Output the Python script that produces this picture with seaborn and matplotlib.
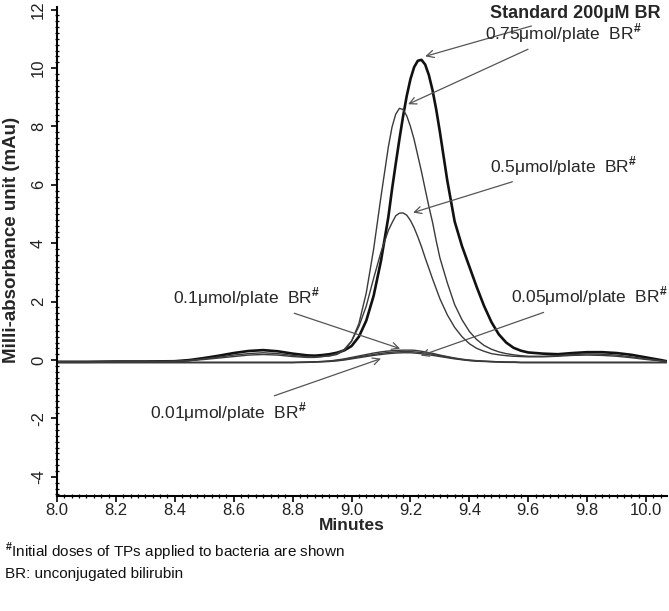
import numpy as np
import pandas as pd
import matplotlib
matplotlib.use('Agg')
import matplotlib.pyplot as plt
import seaborn as sns
from matplotlib.ticker import MultipleLocator, FormatStrFormatter

# --- data (minutes vs mAu) ---
minutes = [8.00, 8.10, 8.20, 8.30, 8.40, 8.45, 8.50, 8.55, 8.60, 8.65, 8.70, 8.75,
           8.80, 8.85, 8.875, 8.90, 8.925, 8.95, 8.975, 9.00, 9.025, 9.05, 9.075,
           9.10, 9.125, 9.1375, 9.15, 9.1625, 9.175, 9.1875, 9.20, 9.2125, 9.225,
           9.2375, 9.25, 9.2625, 9.275, 9.2875, 9.30, 9.325, 9.35,
           9.375, 9.40, 9.425, 9.45, 9.475, 9.50, 9.525, 9.55, 9.575, 9.60, 9.65,
           9.70, 9.75, 9.80, 9.85, 9.90, 9.95, 10.00, 10.05, 10.07]

standard_200uM = [-0.06, -0.06, -0.05, -0.05, -0.04, 0.0, 0.07, 0.15, 0.24, 0.31, 0.34, 0.30,
                  0.22, 0.16, 0.15, 0.17, 0.20, 0.25, 0.33, 0.48, 0.80, 1.35, 2.20,
                  3.40, 4.90, 5.85, 6.72, 7.56, 8.35, 9.05, 9.62, 10.03, 10.25,
                  10.28, 10.12, 9.76, 9.24, 8.58, 7.81, 6.15, 4.75,
                  3.90, 3.20, 2.50, 1.85, 1.30, 0.88, 0.60, 0.42, 0.32, 0.26, 0.22,
                  0.20, 0.24, 0.27, 0.27, 0.24, 0.18, 0.09, 0.0, -0.04]

dose_075 = [-0.06, -0.06, -0.05, -0.05, -0.04, -0.01, 0.04, 0.10, 0.17, 0.22, 0.25, 0.22,
            0.16, 0.11, 0.10, 0.12, 0.14, 0.19, 0.33, 0.64, 1.25, 2.30, 3.80,
            5.60, 7.30, 7.98, 8.42, 8.62, 8.58, 8.36, 8.00, 7.55, 7.00,
            6.45, 5.85, 5.26, 4.72, 4.08, 3.50, 2.65, 1.90,
            1.38, 0.98, 0.70, 0.50, 0.37, 0.28, 0.22, 0.18, 0.15, 0.13, 0.13,
            0.15, 0.19, 0.21, 0.20, 0.17, 0.11, 0.04, -0.02, -0.05]

dose_05 = [-0.06, -0.06, -0.05, -0.05, -0.04, -0.02, 0.02, 0.07, 0.12, 0.17, 0.19, 0.17,
           0.12, 0.09, 0.09, 0.12, 0.15, 0.22, 0.36, 0.65, 1.15, 1.85, 2.80,
           3.70, 4.44, 4.70, 4.94, 5.03, 5.04, 4.96, 4.78, 4.53, 4.22,
           3.88, 3.50, 3.14, 2.78, 2.44, 2.10, 1.55, 1.12,
           0.80, 0.56, 0.40, 0.30, 0.22, 0.18, 0.15, 0.13, 0.12, 0.11, 0.11,
           0.13, 0.16, 0.17, 0.16, 0.13, 0.08, 0.02, -0.03, -0.05]

dose_01 = [-0.08, -0.08, -0.08, -0.08, -0.08, -0.08, -0.08, -0.08, -0.08, -0.08, -0.08, -0.08,
           -0.08, -0.07, -0.06, -0.05, -0.03, 0.0, 0.04, 0.09, 0.14, 0.19, 0.24,
           0.28, 0.31, 0.32, 0.33, 0.335, 0.34, 0.34, 0.34, 0.335, 0.32,
           0.30, 0.28, 0.255, 0.23, 0.20, 0.17, 0.12, 0.07,
           0.03, 0.0, -0.02, -0.04, -0.05, -0.06, -0.07, -0.07, -0.08, -0.08, -0.08,
           -0.08, -0.08, -0.08, -0.08, -0.08, -0.08, -0.08, -0.08, -0.08]

dose_005 = [-0.08, -0.08, -0.08, -0.08, -0.08, -0.08, -0.08, -0.08, -0.08, -0.08, -0.08, -0.08,
            -0.08, -0.07, -0.06, -0.05, -0.04, -0.01, 0.02, 0.06, 0.11, 0.15, 0.19,
            0.23, 0.26, 0.27, 0.28, 0.285, 0.29, 0.29, 0.29, 0.28, 0.27,
            0.255, 0.24, 0.22, 0.20, 0.175, 0.15, 0.10, 0.06,
            0.02, -0.01, -0.03, -0.04, -0.05, -0.06, -0.07, -0.07, -0.08, -0.08, -0.08,
            -0.08, -0.08, -0.08, -0.08, -0.08, -0.08, -0.08, -0.08, -0.08]

dose_001 = [-0.09, -0.09, -0.09, -0.09, -0.09, -0.09, -0.09, -0.09, -0.09, -0.09, -0.09, -0.09,
            -0.09, -0.08, -0.07, -0.06, -0.05, -0.03, 0.0, 0.04, 0.08, 0.12, 0.16,
            0.19, 0.22, 0.23, 0.24, 0.245, 0.25, 0.25, 0.25, 0.24, 0.23,
            0.215, 0.20, 0.18, 0.16, 0.14, 0.12, 0.08, 0.04,
            0.01, -0.02, -0.04, -0.05, -0.06, -0.07, -0.08, -0.08, -0.09, -0.09, -0.09,
            -0.09, -0.09, -0.09, -0.09, -0.09, -0.09, -0.09, -0.09, -0.09]

series = {
    'Standard 200μM BR': standard_200uM,
    '0.75μmol/plate BR': dose_075,
    '0.5μmol/plate BR': dose_05,
    '0.1μmol/plate BR': dose_01,
    '0.05μmol/plate BR': dose_005,
    '0.01μmol/plate BR': dose_001,
}

df = pd.concat([pd.DataFrame({'Minutes': minutes, 'mAu': v, 'sample': k})
                for k, v in series.items()], ignore_index=True)

# --- style ---
sns.set_style('ticks')
plt.rcParams['font.family'] = ['Liberation Sans', 'DejaVu Sans']
plt.rcParams['mathtext.fontset'] = 'custom'
plt.rcParams['mathtext.rm'] = 'Liberation Sans'
plt.rcParams['mathtext.bf'] = 'Liberation Sans:bold'
plt.rcParams['axes.unicode_minus'] = False

fig = plt.figure(figsize=(6.69, 6.11), dpi=100)
ax = fig.add_axes([0.0852, 0.188, 0.9118, 0.801])

for name in series:
    sub = df[df['sample'] == name]
    is_std = name.startswith('Standard')
    sns.lineplot(data=sub, x='Minutes', y='mAu', ax=ax, sort=False,
                 color='#111111' if is_std else '#3a3a3a',
                 lw=1.9 if is_std else 1.0)

ax.set_xlim(8.0, 10.071)
ax.set_ylim(-4.66, 12.1)
ax.xaxis.set_major_locator(MultipleLocator(0.2))
ax.xaxis.set_minor_locator(MultipleLocator(0.025))
ax.yaxis.set_major_locator(MultipleLocator(2))
ax.yaxis.set_minor_locator(MultipleLocator(0.2))
ax.xaxis.set_major_formatter(FormatStrFormatter('%.1f'))
ax.tick_params(which='major', direction='out', length=4, width=1.2, color='black',
               labelsize=12, labelcolor='#222222')
ax.tick_params(which='minor', direction='inout', length=3, width=0.9, color='black')
ax.tick_params(axis='x', pad=1)
ax.tick_params(axis='y', pad=4)
for lab in ax.get_yticklabels():
    lab.set_rotation(90)
    lab.set_va('center')

sns.despine(ax=ax)
for sp in ['left', 'bottom']:
    ax.spines[sp].set_linewidth(1.5)
    ax.spines[sp].set_color('black')

ax.set_xlabel('Minutes', fontsize=12.5, fontweight='bold')
ax.xaxis.label.set_va('center')
ax.xaxis.set_label_coords(0.484, -0.060)
ax.set_ylabel('Milli-absorbance unit (mAu)', fontsize=13.5, fontweight='bold')
ax.yaxis.label.set_va('center')
ax.yaxis.set_label_coords(-0.074, 0.523)

# --- annotations ---
arrow = dict(arrowstyle='->', color='#555555', lw=0.9, shrinkA=2, shrinkB=0)
fs = 12.5
sup = r'BR$^{\mathbf{\#}}$'
ax.annotate('Standard 200μM BR', xy=(9.25, 10.4), xytext=(9.47, 11.87),
            fontsize=13, fontweight='bold', ha='left', va='center', arrowprops=arrow)
ax.annotate('0.75μmol/plate  ' + sup, xy=(9.192, 8.76), xytext=(9.453, 11.2),
            fontsize=fs, ha='left', va='center', arrowprops=arrow)
ax.annotate('0.5μmol/plate  ' + sup, xy=(9.209, 5.05), xytext=(9.47, 6.65),
            fontsize=fs, ha='left', va='center', arrowprops=arrow)
ax.annotate('0.1μmol/plate  ' + sup, xy=(9.165, 0.39), xytext=(8.394, 2.15),
            fontsize=fs, ha='left', va='center', arrowprops=arrow)
ax.annotate('0.05μmol/plate  ' + sup, xy=(9.235, 0.15), xytext=(9.54, 2.18),
            fontsize=fs, ha='left', va='center', arrowprops=arrow)
ax.annotate('0.01μmol/plate  ' + sup, xy=(9.10, 0.05), xytext=(8.316, -1.77),
            fontsize=fs, ha='left', va='center', arrowprops=arrow)

# --- footnotes ---
fig.text(0.007, 1 - 552 / 611, r'$^{\mathbf{\#}}$Initial doses of TPs applied to bacteria are shown',
         fontsize=11, va='center', ha='left', color='#111111')
fig.text(0.007, 1 - 574 / 611, 'BR: unconjugated bilirubin',
         fontsize=11, va='center', ha='left', color='#111111')

fig.savefig('out.png', dpi=100)
